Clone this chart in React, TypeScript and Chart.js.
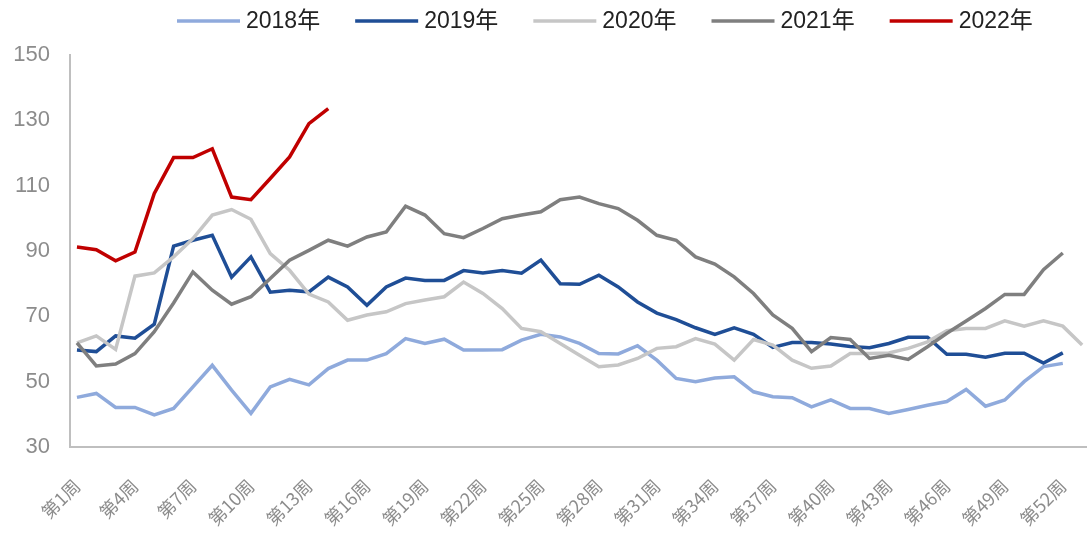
import { useEffect, useRef } from 'react';
import { Chart, registerables } from 'chart.js';

Chart.register(...registerables);

const weekLabels = [
  '第1周', '第2周', '第3周', '第4周', '第5周', '第6周', '第7周', '第8周', '第9周', '第10周',
  '第11周', '第12周', '第13周', '第14周', '第15周', '第16周', '第17周', '第18周', '第19周', '第20周',
  '第21周', '第22周', '第23周', '第24周', '第25周', '第26周', '第27周', '第28周', '第29周', '第30周',
  '第31周', '第32周', '第33周', '第34周', '第35周', '第36周', '第37周', '第38周', '第39周', '第40周',
  '第41周', '第42周', '第43周', '第44周', '第45周', '第46周', '第47周', '第48周', '第49周', '第50周',
  '第51周', '第52周', '第53周',
];

const seriesNames = ['2018年', '2019年', '2020年', '2021年', '2022年'];

const y2018 = [
  45.2, 46.4, 42.1, 42.1, 39.8, 41.8, 48.4, 55, 47.4, 40.3,
  48.4, 50.7, 49, 54, 56.6, 56.6, 58.6, 63.2, 61.7, 63,
  59.7, 59.7, 59.8, 62.7, 64.5, 63.7, 61.7, 58.6, 58.5, 61,
  56.6, 51, 50, 51.1, 51.5, 46.9, 45.4, 45.1, 42.3, 44.4,
  41.8, 41.8, 40.3, 41.5, 42.8, 43.9, 47.6, 42.5, 44.4, 50,
  54.6, 55.6,
];

const y2019 = [
  59.7, 59.2, 64, 63.3, 67.6, 91.5, 93.3, 94.8, 82, 88.2,
  77.4, 78, 77.5, 82, 79, 73.4, 79, 81.7, 81, 81,
  84, 83.3, 84, 83.2, 87.2, 80, 79.8, 82.6, 79, 74.4,
  71, 69, 66.5, 64.5, 66.5, 64.5, 60.5, 62, 62, 61.5,
  60.8, 60.4, 61.7, 63.6, 63.6, 58.4, 58.4, 57.5, 58.7, 58.7,
  55.7, 58.8,
];

const y2020 = [
  61.9, 64, 59.9, 82.3, 83.3, 88.2, 93.8, 101, 102.7, 99.7,
  89.2, 84.1, 76.8, 74.4, 68.8, 70.4, 71.4, 73.9, 75, 76,
  80.5, 77, 72.4, 66.3, 65.3, 61.7, 58.1, 54.6, 55.1, 57.1,
  60.2, 60.7, 63.2, 61.5, 56.6, 62.9, 61.2, 56.6, 54.1, 54.8,
  58.6, 58.6, 58.8, 60.2, 62.2, 65.6, 66.3, 66.3, 68.6, 67,
  68.6, 67, 61.2,
];

const y2021 = [
  61.9, 54.8, 55.4, 58.6, 65.3, 74.1, 83.6, 78, 73.7, 76,
  81.6, 87.2, 90.2, 93.3, 91.5, 94.3, 95.8, 103.7, 101, 95.3,
  94.1, 96.9, 99.9, 101, 102, 105.7, 106.5, 104.5, 103, 99.4,
  94.8, 93.3, 88.2, 86, 82.1, 77, 70.4, 66.3, 59.2, 63.5,
  62.9, 57.1, 58.1, 56.8, 60.7, 64.8, 68.6, 72.4, 76.7, 76.7,
  84.3, 89.4,
];

const y2022 = [
  91.2, 90.4, 87, 89.7, 107.6, 118.6, 118.6, 121.3, 106.5, 105.7,
  112.2, 118.8, 129, 133.6,
];

const yTicks = [30, 50, 70, 90, 110, 130, 150];

const allSeries = [y2018, y2019, y2020, y2021, y2022];
const colors = ['#8FAADC', '#1F4E96', '#C6C6C6', '#7F7F7F', '#C00000'];

const legendPlugin = {
  id: 'topLegend',
  afterDraw(chart: any) {
    const ctx = chart.ctx;
    ctx.save();
    ctx.font = '23px "Liberation Sans", Arial, "Noto Sans CJK SC", sans-serif';
    ctx.textBaseline = 'middle';
    ctx.textAlign = 'left';
    let x = 177;
    const y = 21;
    chart.data.datasets.forEach((ds: any) => {
      ctx.strokeStyle = ds.borderColor;
      ctx.lineWidth = 3.5;
      ctx.beginPath();
      ctx.moveTo(x, y);
      ctx.lineTo(x + 63, y);
      ctx.stroke();
      ctx.fillStyle = '#222222';
      ctx.fillText(ds.label, x + 69, y + 1);
      const w = ctx.measureText(ds.label).width;
      x += 69 + w + 35;
    });
    ctx.restore();
  },
};

export default function App() {
  const ref = useRef<HTMLCanvasElement | null>(null);

  useEffect(() => {
    if (!ref.current) return;
    const tickIdx = weekLabels.map((_, i) => i).filter((i) => i % 3 === 0 && i < 52);
    const datasets = allSeries.map((vals, k) => ({
      label: seriesNames[k],
      data: vals.map((v, i) => ({ x: i, y: v })),
      borderColor: colors[k],
      backgroundColor: colors[k],
      borderWidth: 3.5,
      pointRadius: 0,
      tension: 0,
      fill: false,
      order: 5 - k,
    }));
    const chart = new Chart(ref.current, {
      type: 'line',
      data: { datasets },
      plugins: [legendPlugin],
      options: {
        animation: false,
        responsive: true,
        maintainAspectRatio: false,
        layout: { padding: { top: 55, right: 2, left: 0, bottom: 0 } },
        plugins: { legend: { display: false }, tooltip: { enabled: false } },
        scales: {
          x: {
            type: 'linear',
            min: -0.36,
            max: 52.2,
            grid: { display: false, drawTicks: false },
            border: { display: true, color: '#BFBFBF', width: 2 },
            afterBuildTicks: (s: any) => {
              s.ticks = tickIdx.map((v) => ({ value: v }));
            },
            afterFit: (s: any) => {
              s.height = 104;
              s.paddingLeft = 0;
              s.paddingRight = 0;
            },
            ticks: {
              autoSkip: false,
              minRotation: 45,
              maxRotation: 45,
              padding: 28,
              color: '#8C8C8C',
              font: { size: 18, family: '"Noto Sans CJK SC", sans-serif' },
              callback: (v: any) => weekLabels[v] ?? '',
            },
          },
          y: {
            min: 30,
            max: 150,
            grid: { display: false, drawTicks: false },
            border: { display: true, color: '#BFBFBF', width: 2 },
            afterBuildTicks: (s: any) => {
              s.ticks = yTicks.map((v) => ({ value: v }));
            },
            afterFit: (s: any) => {
              s.width = 70;
            },
            ticks: {
              padding: 20,
              color: '#8C8C8C',
              font: { size: 22, family: '"Liberation Sans", Arial, sans-serif' },
            },
          },
        },
      } as any,
    });
    return () => chart.destroy();
  }, []);

  return (
    <div style={{ position: 'fixed', left: 0, top: 0, width: 1088, height: 551, background: '#fff' }}>
      <canvas ref={ref} />
    </div>
  );
}
